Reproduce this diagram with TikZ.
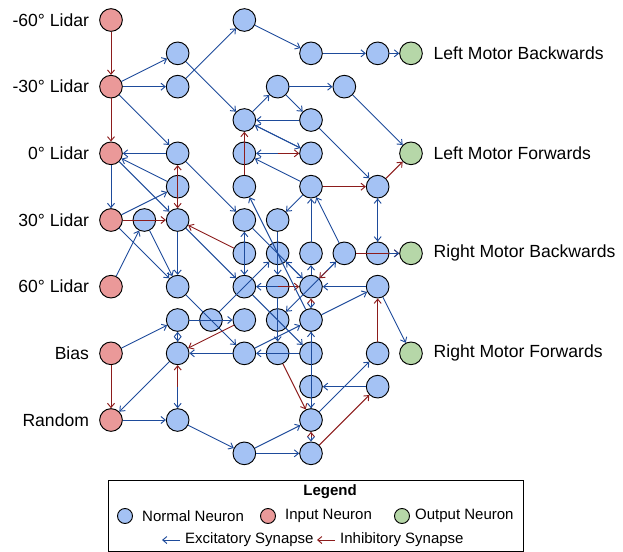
\documentclass[tikz,border=0pt]{standalone}
\usepackage{fontspec}
\setmainfont{Liberation Sans}
\usepackage{tikz}
\usetikzlibrary{arrows.meta, positioning, calc}
\definecolor{normalfill}{HTML}{A4C2F4}
\definecolor{inputfill}{HTML}{EA9999}
\definecolor{outputfill}{HTML}{B6D7A8}
\definecolor{excblue}{RGB}{30,75,155}
\definecolor{inhred}{RGB}{140,28,28}
\tikzstyle{neuron} = [circle, minimum size=0.68cm, inner sep=0pt, draw=black, line width=0.8pt, fill=normalfill]
\tikzstyle{innode} = [neuron, fill=inputfill]
\tikzstyle{outnode} = [neuron, fill=outputfill]
\tikzstyle{exc} = [-{Straight Barb[length=3.6pt,width=6pt]}, draw=excblue, line width=0.8pt]
\tikzstyle{inh} = [exc, draw=inhred]
\tikzstyle{lbl} = [font=\fontsize{15}{18}\selectfont, inner sep=0pt]
\tikzstyle{legtext} = [font=\fontsize{12.8}{15}\selectfont, inner sep=0pt, anchor=west]
\tikzstyle{legdot} = [circle, minimum size=0.45cm, inner sep=0pt, draw=black, line width=0.8pt]

\begin{document}
\begin{tikzpicture}
    \useasboundingbox (-3.33, 0.6) rectangle (15.36, -15.96);

    % input neurons
    \node (lidarm60) [innode] at (0, 0) {};
    \node (lidarm30) [innode] at (0, -2) {};
    \node (lidar0) [innode] at (0, -4) {};
    \node (lidar30) [innode] at (0, -6) {};
    \node (lidar60) [innode] at (0, -8) {};
    \node (bias) [innode] at (0, -10) {};
    \node (random) [innode] at (0, -12) {};
    \node [lbl, left=0.3cm of lidarm60] {-60° Lidar};
    \node [lbl, left=0.3cm of lidarm30] {-30° Lidar};
    \node [lbl, left=0.3cm of lidar0] {0° Lidar};
    \node [lbl, left=0.3cm of lidar30] {30° Lidar};
    \node [lbl, left=0.3cm of lidar60] {60° Lidar};
    \node [lbl, left=0.3cm of bias] {Bias};
    \node [lbl, left=0.3cm of random] {Random};

    % output neurons
    \node (lmb) [outnode] at (9, -1) {};
    \node (lmf) [outnode] at (9, -4) {};
    \node (rmb) [outnode] at (9, -7) {};
    \node (rmf) [outnode] at (9, -10) {};
    \node [lbl, right=0.32cm of lmb] {Left Motor Backwards};
    \node [lbl, right=0.32cm of lmf] {Left Motor Forwards};
    \node [lbl, right=0.32cm of rmb] {Right Motor Backwards};
    \node [lbl, right=0.32cm of rmf] {Right Motor Forwards};

    % hidden neurons
    \node (h4-0) [neuron] at (4, 0) {};
    \node (h2-1) [neuron] at (2, -1) {};
    \node (h6-1) [neuron] at (6, -1) {};
    \node (h8-1) [neuron] at (8, -1) {};
    \node (h2-2) [neuron] at (2, -2) {};
    \node (h5-2) [neuron] at (5, -2) {};
    \node (h7-2) [neuron] at (7, -2) {};
    \node (h4-3) [neuron] at (4, -3) {};
    \node (h6-3) [neuron] at (6, -3) {};
    \node (h2-4) [neuron] at (2, -4) {};
    \node (h4-4) [neuron] at (4, -4) {};
    \node (h6-4) [neuron] at (6, -4) {};
    \node (h2-5) [neuron] at (2, -5) {};
    \node (h4-5) [neuron] at (4, -5) {};
    \node (h6-5) [neuron] at (6, -5) {};
    \node (h8-5) [neuron] at (8, -5) {};
    \node (h1-6) [neuron] at (1, -6) {};
    \node (h2-6) [neuron] at (2, -6) {};
    \node (h4-6) [neuron] at (4, -6) {};
    \node (h5-6) [neuron] at (5, -6) {};
    \node (h4-7) [neuron] at (4, -7) {};
    \node (h5-7) [neuron] at (5, -7) {};
    \node (h6-7) [neuron] at (6, -7) {};
    \node (h7-7) [neuron] at (7, -7) {};
    \node (h8-7) [neuron] at (8, -7) {};
    \node (h2-8) [neuron] at (2, -8) {};
    \node (h4-8) [neuron] at (4, -8) {};
    \node (h5-8) [neuron] at (5, -8) {};
    \node (h6-8) [neuron] at (6, -8) {};
    \node (h8-8) [neuron] at (8, -8) {};
    \node (h2-9) [neuron] at (2, -9) {};
    \node (h3-9) [neuron] at (3, -9) {};
    \node (h4-9) [neuron] at (4, -9) {};
    \node (h5-9) [neuron] at (5, -9) {};
    \node (h6-9) [neuron] at (6, -9) {};
    \node (h2-10) [neuron] at (2, -10) {};
    \node (h4-10) [neuron] at (4, -10) {};
    \node (h5-10) [neuron] at (5, -10) {};
    \node (h6-10) [neuron] at (6, -10) {};
    \node (h8-10) [neuron] at (8, -10) {};
    \node (h6-11) [neuron] at (6, -11) {};
    \node (h8-11) [neuron] at (8, -11) {};
    \node (h2-12) [neuron] at (2, -12) {};
    \node (h6-12) [neuron] at (6, -12) {};
    \node (h4-13) [neuron] at (4, -13) {};
    \node (h6-13) [neuron] at (6, -13) {};

    % synapses from the inputs
    \draw [inh] (lidarm60) -- (lidarm30);
    \draw [inh] (lidarm30) -- (lidar0);
    \draw [exc] (lidarm30) -- (h2-1);
    \draw [exc] (lidarm30) -- (h2-2);
    \draw [exc] (lidarm30) -- (h2-4);
    \draw [exc] (h2-4) -- (lidar0);
    \draw [exc] (lidar0) -- (lidar30);
    \draw [exc] (lidar0) -- (h2-6);
    \draw [exc] (h2-5) -- (lidar0);
    \draw [exc] (lidar30) -- (h2-5);
    \draw [inh] (lidar30) -- (h2-6);
    \draw [exc] (lidar30) -- (h2-8);
    \draw [exc] (lidar60) -- (h1-6);
    \draw [exc] (bias) -- (h2-9);
    \draw [inh] (bias) -- (random);
    \draw [exc] (random) -- (h2-12);

    % upper part
    \draw [exc] (h2-2) -- (h4-0);
    \draw [exc] (h2-1) -- (h4-3);
    \draw [exc] (h4-0) -- (h6-1);
    \draw [exc] (h6-1) -- (h8-1);
    \draw [exc] (h8-1) -- (lmb);
    \draw [exc] (h4-3) -- (h5-2);
    \draw [exc] (h5-2) -- (h7-2);
    \draw [exc] (h5-2) -- (h6-3);
    \draw [exc] (h6-3) -- (h4-3);
    \draw [exc] (h7-2) -- (lmf);
    \draw [exc] (h4-3) -- (h6-4);
    \draw [exc] (h6-4) -- (h4-3);
    \draw [exc] ($(h4-4)!0.5!(h6-4)$) -- (h4-4);
    \draw [inh] ($(h4-4)!0.5!(h6-4)$) -- (h6-4);
    \draw [inh] (h4-5) -- (h4-3);
    \draw [exc] (h6-5) -- (h4-4);
    \draw [exc] (h6-3) -- (h8-5);
    \draw [inh] (h6-5) -- (h8-5);
    \draw [inh] (h8-5) -- (lmf);
    \draw [exc] (h6-5) -- (h5-6);
    \draw [exc] (h8-5) -- (h8-7);
    \draw [exc] (h8-7) -- (h8-5);
    \draw [inh] (h7-7) -- (rmb);
    \draw [exc] (h8-7) -- (rmb);
    \draw [exc] (h7-7) -- (h6-5);
    \draw [exc] (h6-7) -- (h6-5);

    % left part
    \draw [exc] (h1-6) -- (h2-8);
    \draw [exc] (h2-6) -- (h2-8);
    \draw [inh] ($(h2-4)!0.5!(h2-6)$) -- (h2-4);
    \draw [inh] ($(h2-4)!0.5!(h2-6)$) -- (h2-6);
    \draw [exc] (h2-4) -- (h4-6);
    \draw [inh] (h4-7) -- (h2-6);
    \draw [exc] (h2-6) -- (h4-8);
    \draw [exc] (h2-8) -- (h4-10);
    \draw [exc] (h2-9) -- (h4-9);
    \draw [inh] (h4-9) -- (h2-10);
    \draw [exc] (h2-9) -- (h2-10);
    \draw [exc] (h2-10) -- (h2-9);
    \draw [inh] ($(h2-10)!0.5!(h2-12)$) -- (h2-10);
    \draw [exc] ($(h2-10)!0.5!(h2-12)$) -- (h2-12);
    \draw [exc] (h2-10) -- (random);
    \draw [exc] (h4-10) -- (h2-10);
    \draw [exc] (h3-9) -- (h5-7);
    \draw [exc] (h2-12) -- (h4-13);

    % middle part
    \draw [exc] (h4-6) -- (h4-8);
    \draw [exc] (h4-8) -- (h4-6);
    \draw [exc] (h5-6) -- (h5-8);
    \draw [exc] (h4-6) -- (h6-8);
    \draw [exc] (h6-8) -- (h5-7);
    \draw [exc] (h7-7) -- (h5-9);
    \draw [inh] ($(h6-8)!0.5!(h7-7)$) -- (h6-8);
    \draw [exc] ($(h6-8)!0.5!(h7-7)$) -- (h7-7);
    \draw [exc] ($(h4-8)!0.5!(h6-8)$) -- (h4-8);
    \draw [inh] ($(h4-8)!0.5!(h6-8)$) -- (h6-8);
    \draw [exc] (h8-8) -- (h6-8);
    \draw [inh] ($(h6-8)!0.5!(h6-9)$) -- (h6-8);
    \draw [exc] ($(h6-8)!0.5!(h6-9)$) -- (h6-9);
    \draw [exc] (h6-8) -- (h6-7);
    \draw [exc] (h6-9) -- (h4-5);
    \draw [exc] (h6-9) -- (h8-8);
    \draw [inh] (h8-10) -- (h8-8);
    \draw [exc] (h8-8) -- (rmf);
    \draw [exc] (h5-8) -- (h5-10);
    \draw [inh] (h5-10) -- (h6-12);
    \draw [exc] (h4-8) -- (h6-10);
    \draw [exc] (h6-10) -- (h4-10);
    \draw [exc] (h4-10) -- (h6-9);

    % lower part
    \draw [exc] (h6-9) -- (h6-12);
    \draw [exc] (h6-12) -- (h6-9);
    \draw [inh] ($(h6-12)!0.5!(h6-13)$) -- (h6-12);
    \draw [exc] ($(h6-12)!0.5!(h6-13)$) -- (h6-13);
    \draw [exc] (h6-12) -- (h8-10);
    \draw [inh] (h6-13) -- (h8-11);
    \draw [exc] (h8-11) -- (h6-11);
    \draw [exc] (h4-13) -- (h6-12);
    \draw [exc] (h4-13) -- (h6-13);

    % legend
    \draw [line width=0.8pt] (-0.09, -13.8) rectangle (12.36, -15.93);
    \node (legtitle) [font=\fontsize{12.8}{15}\selectfont\bfseries] at (6.57, -14.16) {Legend};
    \node (legnormal) [legdot, fill=normalfill] at (0.42, -14.88) {};
    \node [legtext] at (0.93, -14.88) {Normal Neuron};
    \node (leginput) [legdot, fill=inputfill] at (4.71, -14.88) {};
    \node [legtext] at (5.22, -14.88) {Input Neuron};
    \node (legoutput) [legdot, fill=outputfill] at (8.73, -14.88) {};
    \node [legtext] at (9.12, -14.88) {Output Neuron};
    \coordinate (excstart) at (2.07, -15.6);
    \coordinate (excend) at (1.53, -15.6);
    \draw [exc] (excstart) -- (excend);
    \node [legtext] at (2.22, -15.6) {Excitatory Synapse};
    \coordinate (inhstart) at (6.72, -15.6);
    \coordinate (inhend) at (6.18, -15.6);
    \draw [inh] (inhstart) -- (inhend);
    \node [legtext] at (6.87, -15.6) {Inhibitory Synapse};

\end{tikzpicture}
\end{document}
